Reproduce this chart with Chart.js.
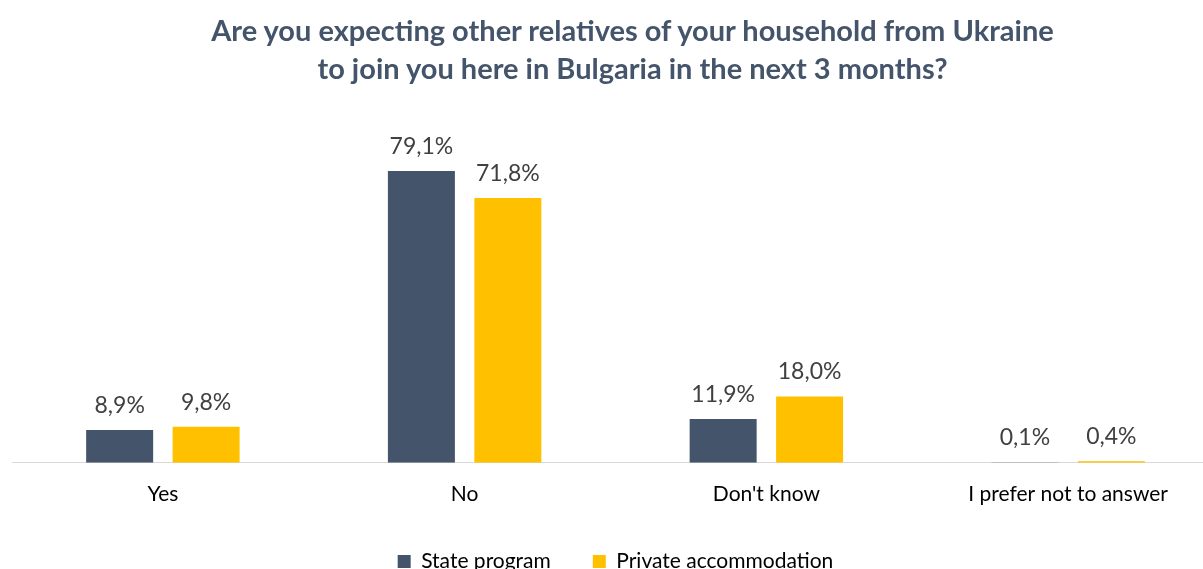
<!DOCTYPE html>
<html>
<head>
<meta charset="utf-8">
<script src="https://cdn.jsdelivr.net/npm/chart.js@4.4.0/dist/chart.umd.min.js"></script>
<style>
  html, body { margin: 0; padding: 0; background: #fff; overflow: hidden; }
  #wrap { position: relative; width: 1203px; height: 569px; overflow: hidden; }
  #titulo {
    position: absolute; left: 62px; top: 11px; width: 1141px;
    text-align: center; font: bold 29px Lato; line-height: 38px; color: #44546A;
  }
  #graf { position: absolute; left: 0; top: 0; }
</style>
</head>
<body>
<div id="wrap">
  <canvas id="graf" width="1240" height="582"></canvas>
  <div id="titulo">Are you expecting other relatives of your household from Ukraine<br>to join you here in Bulgaria in the next 3 months?</div>
</div>
<script>
// respostas e percentuais por tipo de alojamento
const categorias = ['Yes', 'No', "Don't know", 'I prefer not to answer'];
const programaEstatal = [8.9, 79.1, 11.9, 0.1];
const alojamentoPrivado = [9.8, 71.8, 18.0, 0.4];

// Plugin para escrever o valor acima de cada barra
const rotulosPlugin = {
  id: 'rotulos',
  afterDatasetsDraw(chart) {
    const { ctx } = chart;
    ctx.save();
    ctx.font = '23px Lato';
    ctx.fillStyle = '#404040';
    ctx.textAlign = 'center';
    ctx.textBaseline = 'alphabetic';
    chart.data.datasets.forEach((ds, i) => {
      chart.getDatasetMeta(i).data.forEach((bar, j) => {
        const texto = ds.data[j].toFixed(1).replace('.', ',') + '%';
        ctx.fillText(texto, bar.x, bar.y - 17);
      });
    });
    ctx.restore();
  }
};

new Chart(document.getElementById('graf'), {
  type: 'bar',
  data: {
    labels: categorias,
    datasets: [
      { label: 'State program', data: programaEstatal, backgroundColor: '#44546A', borderWidth: 0 },
      { label: 'Private accommodation', data: alojamentoPrivado, backgroundColor: '#FFC000', borderWidth: 0 }
    ]
  },
  options: {
    responsive: false,
    animation: false,
    categoryPercentage: 0.573,
    barPercentage: 0.775,
    layout: { padding: { left: 12, right: 21, top: 94, bottom: 0 } },
    scales: {
      x: {
        grid: { display: false, drawTicks: false },
        border: { display: true, color: '#D9D9D9', width: 1 },
        ticks: { color: '#000', font: { family: 'Lato', size: 21 }, padding: 19 },
        // aproxima a legenda do eixo
        afterFit(scale) { scale.height -= 17; }
      },
      y: { display: false, min: 0, max: 100 }
    },
    plugins: {
      legend: {
        position: 'bottom',
        labels: {
          boxWidth: 13, boxHeight: 13, padding: 42,
          color: '#000', font: { family: 'Lato', size: 21 }
        }
      },
      tooltip: { enabled: false }
    }
  },
  plugins: [rotulosPlugin]
});
</script>
</body>
</html>
